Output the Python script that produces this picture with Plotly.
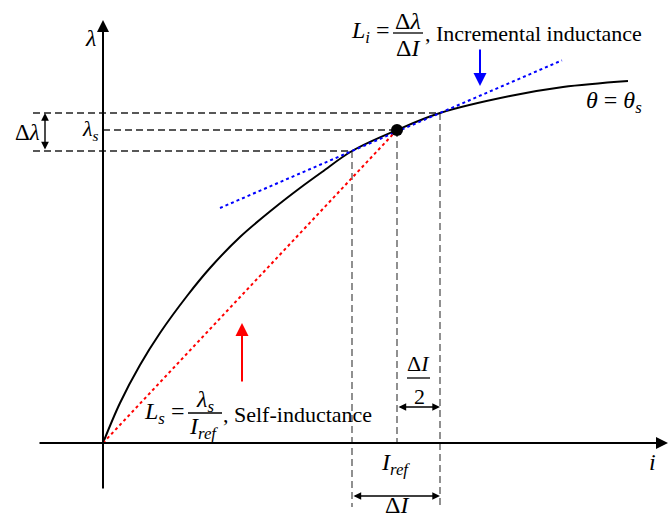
import plotly.graph_objects as go

# Magnetisation curve (flux linkage vs current)
i_curve = [0, 17, 37, 57, 84, 107, 137, 170, 197, 219, 249, 294, 337, 407, 460, 525]
lam_curve = [0, 40, 78, 110, 147, 175, 206, 234, 255, 271, 292, 313, 330, 347, 356, 362]

# Operating point and the current step around it
I_ref = 294
lam_s = 313
I_lo, I_hi = 249, 337          # I_ref -/+ dI/2 (approx.)
lam_lo, lam_hi = 292, 330      # flux linkage at I_lo and I_hi
tangent_span = [117, 459]      # i-range over which the incremental-inductance line is drawn

SERIF = "Liberation Serif"
FS = 22
FM = 24   # size for the inductance symbols and fraction parts

fig = go.Figure()

# Saturation curve
fig.add_trace(go.Scatter(x=i_curve, y=lam_curve, mode="lines",
                         line=dict(color="black", width=2, shape="spline", smoothing=1.0),
                         hoverinfo="skip"))

# Incremental inductance line (chord through the two step points)
slope = (lam_hi - lam_lo) / (I_hi - I_lo)
tan_y = [lam_lo + slope * (x - I_lo) for x in tangent_span]
fig.add_trace(go.Scatter(x=tangent_span, y=tan_y, mode="lines",
                         line=dict(color="blue", width=2, dash="dot"), hoverinfo="skip"))

# Self-inductance line from the origin to the operating point
fig.add_trace(go.Scatter(x=[0, I_ref], y=[0, lam_s], mode="lines",
                         line=dict(color="red", width=2, dash="dot"), hoverinfo="skip"))

# Operating point marker
fig.add_trace(go.Scatter(x=[I_ref], y=[lam_s], mode="markers",
                         marker=dict(color="black", size=12), hoverinfo="skip"))

# Dashed guide lines
dash = "7px,4px"
x_left = -70
y_bottom = -64
for x0, y0, x1, y1, col in [
    (x_left, lam_hi, I_hi, lam_hi, "#222"),
    (x_left, lam_lo, I_lo, lam_lo, "#222"),
    (0, lam_s, I_ref, lam_s, "#222"),
    (I_lo, lam_lo, I_lo, y_bottom, "#555"),
    (I_ref, lam_s, I_ref, 0, "#555"),
    (I_hi, lam_hi, I_hi, y_bottom, "#555"),
]:
    fig.add_shape(type="line", x0=x0, y0=y0, x1=x1, y1=y1,
                  line=dict(color=col, width=1.3, dash=dash), layer="below")


def arrow(x, y, ax, ay, color="black", width=2, size=1.0, both=False):
    fig.add_annotation(x=x, y=y, ax=ax, ay=ay, xref="x", yref="y", axref="x", ayref="y",
                       text="", showarrow=True, arrowhead=2, arrowsize=size,
                       arrowwidth=width, arrowcolor=color,
                       arrowside="end+start" if both else "end",
                       startarrowhead=2, startarrowsize=size)


# Axes
arrow(565, 0, -65, 0, width=2, size=1.2)
arrow(0, 423, 0, -47, width=2, size=1.2)

# Dimension arrows
arrow(-58, lam_hi, -58, lam_lo, width=1.4, size=1.1, both=True)
arrow(I_hi, 36, I_ref, 36, width=1.4, size=1.1, both=True)
arrow(I_hi, -53, I_lo, -53, width=1.4, size=1.1, both=True)

# Pointer arrows
arrow(139, 120, 139, 60, color="red", width=2, size=1.3)
arrow(377, 357, 377, 395, color="blue", width=2, size=1.3)


def label(x, y, text, xanchor="center", size=FS, yanchor="middle"):
    fig.add_annotation(x=x, y=y, xref="x", yref="y", text=text, showarrow=False,
                       xanchor=xanchor, yanchor=yanchor,
                       font=dict(family=SERIF, size=size, color="black"))


def frac_bar(x0, x1, y):
    fig.add_shape(type="line", x0=x0, x1=x1, y0=y, y1=y, line=dict(color="black", width=1.3))


# Axis labels
label(-13, 405, "<i>λ</i>", size=24)
label(549, -19, "<i>i</i>", size=24)

# Step labels
label(-76, 311, "Δ<i>λ</i>", size=23)
label(-2, 313, "<i>λ</i><sub><i>s</i></sub>", xanchor="right")
label(292, -21, "<i>I</i><sub><i>ref</i></sub>", size=FM)
label(294, -62, "Δ<i>I</i>", size=FM)
label(315, 80, "Δ<i>I</i>")
frac_bar(304, 327, 65)
label(316, 47, "2")

# Curve label
label(511, 341, "<i>θ</i> = <i>θ</i><sub><i>s</i></sub>", size=24)

# Incremental inductance formula
label(289, 411, "<i>L</i><sub><i>i</i></sub> =", xanchor="right", size=FM)
label(305, 422, "Δ<i>λ</i>", size=FM)
frac_bar(290, 320, 410)
label(305, 395, "Δ<i>I</i>", size=FM)
label(320, 410, ", Incremental inductance", xanchor="left")

# Self-inductance formula
label(83, 30, "<i>L</i><sub><i>s</i></sub> =", xanchor="right", size=FM)
label(102, 42, "<i>λ</i><sub><i>s</i></sub>", size=FM)
frac_bar(85, 119, 30)
label(100, 15, "<i>I</i><sub><i>ref</i></sub>", size=FM)
label(118, 29, ", Self-inductance", xanchor="left")

fig.update_layout(
    width=668, height=517,
    margin=dict(l=0, r=0, t=0, b=0),
    paper_bgcolor="white", plot_bgcolor="white",
    showlegend=False,
    xaxis=dict(range=[-103, 565], visible=False, fixedrange=True),
    yaxis=dict(range=[-74, 443], visible=False, fixedrange=True),
)

fig.write_html("out.html")
